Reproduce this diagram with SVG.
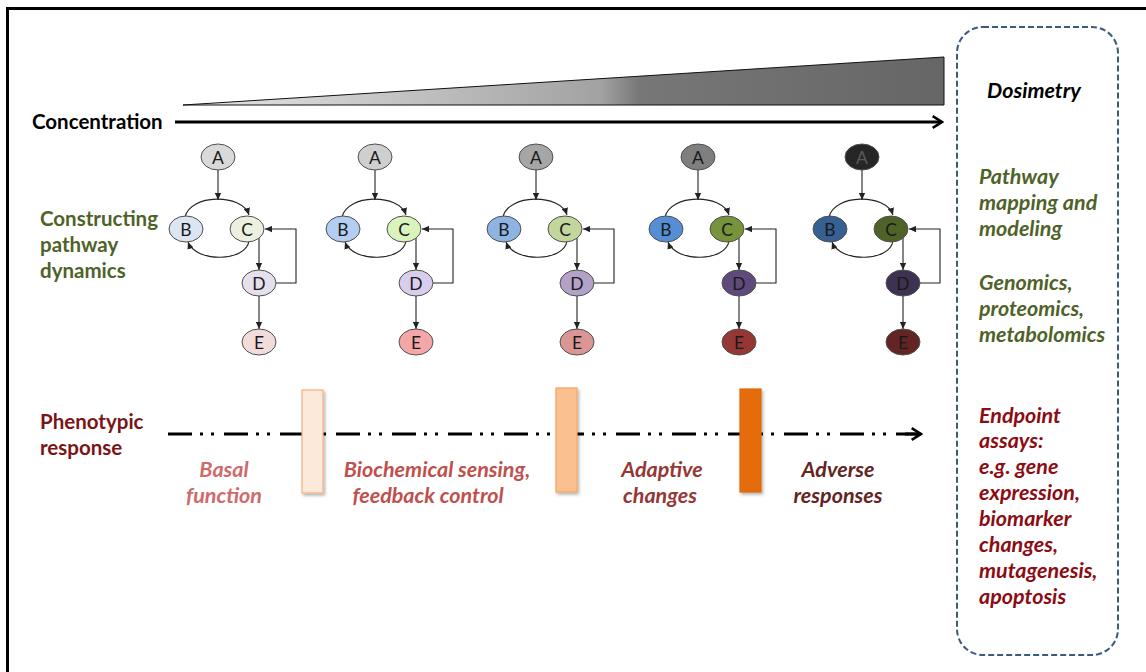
<svg xmlns="http://www.w3.org/2000/svg" width="1146" height="672" viewBox="0 0 1146 672">
<style>
.nd{stroke:#505050;stroke-width:1}
.nt{font-family:Lato,"Liberation Sans",sans-serif;font-size:17.5px;fill:#1a1a1a;text-anchor:middle;dominant-baseline:central}
.ed{fill:none;stroke:#222;stroke-width:1.1}
.lbl{font-family:Lato,"Open Sans","Liberation Sans",sans-serif;font-weight:bold;font-size:20.5px}
.bi{font-family:Lato,"Open Sans","Liberation Sans",sans-serif;font-weight:bold;font-style:italic;font-size:21.5px}
.mid{text-anchor:middle}
</style>
<defs>
<marker id="ah" viewBox="0 0 10 10" refX="10" refY="5" markerWidth="7" markerHeight="7" markerUnits="userSpaceOnUse" orient="auto"><path d="M0,0.5 L10,5 L0,9.5 z" fill="#222"/></marker>
<marker id="chev" viewBox="0 0 12 12" refX="10" refY="6" markerWidth="14" markerHeight="14" markerUnits="userSpaceOnUse" orient="auto"><path d="M2,1 L10,6 L2,11" fill="none" stroke="#000" stroke-width="2.2"/></marker>
<linearGradient id="tri" x1="0" y1="0" x2="1" y2="0">
<stop offset="0" stop-color="#e6e6e6"/>
<stop offset="0.55" stop-color="#a2a2a2"/>
<stop offset="0.6" stop-color="#777"/>
<stop offset="1" stop-color="#666"/>
</linearGradient>
<filter id="sh" x="-30%" y="-10%" width="160%" height="130%"><feDropShadow dx="1.5" dy="2" stdDeviation="1.5" flood-color="#000" flood-opacity="0.3"/></filter>
</defs>
<rect x="0" y="0" width="1146" height="672" fill="#fff"/>
<rect x="7.5" y="8.5" width="1200" height="700" fill="none" stroke="#000" stroke-width="3"/>

<g id="dosimetry-box">
<rect x="957" y="27" width="161" height="628" rx="26" fill="none" stroke="#3b5a80" stroke-width="2" stroke-dasharray="6 3"/>
<text class="bi" x="987" y="98" fill="#000">Dosimetry</text>
<text class="bi" fill="#4f6228"><tspan x="979" y="184">Pathway</tspan><tspan x="979" y="210">mapping and</tspan><tspan x="979" y="236">modeling</tspan><tspan x="979" y="290">Genomics,</tspan><tspan x="979" y="316">proteomics,</tspan><tspan x="979" y="342">metabolomics</tspan></text>
<text class="bi" fill="#8b0c12"><tspan x="979" y="423">Endpoint</tspan><tspan x="979" y="448">assays:</tspan><tspan x="979" y="474">e.g. gene</tspan><tspan x="979" y="500">expression,</tspan><tspan x="979" y="526">biomarker</tspan><tspan x="979" y="552">changes,</tspan><tspan x="979" y="578">mutagenesis,</tspan><tspan x="979" y="604">apoptosis</tspan></text>
</g>

<g id="concentration">
<polygon points="183,105 944,57 944,105" fill="url(#tri)" stroke="#111" stroke-width="1"/>
<text class="lbl" x="32" y="129" fill="#000" font-size="19.5">Concentration</text>
</g>

<g id="labels">
<text class="lbl" fill="#4f6228"><tspan x="40" y="226">Constructing</tspan><tspan x="40" y="252">pathway</tspan><tspan x="40" y="278">dynamics</tspan></text>
<text class="lbl" fill="#7a1416"><tspan x="40" y="429">Phenotypic</tspan><tspan x="40" y="455">response</tspan></text>
<text class="bi mid" fill="#cf6a6a"><tspan x="224" y="477">Basal</tspan><tspan x="224" y="503">function</tspan></text>
<text class="bi mid" fill="#c0504d"><tspan x="437" y="477">Biochemical sensing,</tspan><tspan x="428" y="503">feedback control</tspan></text>
<text class="bi mid" fill="#953735"><tspan x="662" y="477">Adaptive</tspan><tspan x="660" y="503">changes</tspan></text>
<text class="bi mid" fill="#632523"><tspan x="838" y="477">Adverse</tspan><tspan x="838" y="503">responses</tspan></text>
</g>

<g id="connectors">
<line x1="175" y1="122" x2="942" y2="122" stroke="#000" stroke-width="3" marker-end="url(#chev)"/>
<line x1="168" y1="434" x2="920" y2="434" stroke="#000" stroke-width="3" stroke-dasharray="24 8 3 8 3 10"/>
<line x1="905" y1="434" x2="921" y2="434" stroke="#000" stroke-width="3" marker-end="url(#chev)"/>
<g id="edges1" transform="translate(218,0)">
<line class="ed" x1="0" y1="170" x2="0" y2="200" marker-end="url(#ah)"/>
<path class="ed" d="M-33,217 C-28,194 24,193 31,215" marker-end="url(#ah)"/>
<path class="ed" d="M31,241 C28,262 -22,263 -30,242" marker-end="url(#ah)"/>
<line class="ed" x1="41" y1="238" x2="41" y2="270" marker-end="url(#ah)"/>
<polyline class="ed" points="58,283 78,283 78,229 47,229" marker-end="url(#ah)"/>
<line class="ed" x1="41" y1="296" x2="41" y2="329" marker-end="url(#ah)"/>
</g>
<g transform="translate(375,0)">
<line class="ed" x1="0" y1="170" x2="0" y2="200" marker-end="url(#ah)"/>
<path class="ed" d="M-33,217 C-28,194 24,193 31,215" marker-end="url(#ah)"/>
<path class="ed" d="M31,241 C28,262 -22,263 -30,242" marker-end="url(#ah)"/>
<line class="ed" x1="41" y1="238" x2="41" y2="270" marker-end="url(#ah)"/>
<polyline class="ed" points="58,283 78,283 78,229 47,229" marker-end="url(#ah)"/>
<line class="ed" x1="41" y1="296" x2="41" y2="329" marker-end="url(#ah)"/>
</g>
<g transform="translate(536,0)">
<line class="ed" x1="0" y1="170" x2="0" y2="200" marker-end="url(#ah)"/>
<path class="ed" d="M-33,217 C-28,194 24,193 31,215" marker-end="url(#ah)"/>
<path class="ed" d="M31,241 C28,262 -22,263 -30,242" marker-end="url(#ah)"/>
<line class="ed" x1="41" y1="238" x2="41" y2="270" marker-end="url(#ah)"/>
<polyline class="ed" points="58,283 78,283 78,229 47,229" marker-end="url(#ah)"/>
<line class="ed" x1="41" y1="296" x2="41" y2="329" marker-end="url(#ah)"/>
</g>
<g transform="translate(698,0)">
<line class="ed" x1="0" y1="170" x2="0" y2="200" marker-end="url(#ah)"/>
<path class="ed" d="M-33,217 C-28,194 24,193 31,215" marker-end="url(#ah)"/>
<path class="ed" d="M31,241 C28,262 -22,263 -30,242" marker-end="url(#ah)"/>
<line class="ed" x1="41" y1="238" x2="41" y2="270" marker-end="url(#ah)"/>
<polyline class="ed" points="58,283 78,283 78,229 47,229" marker-end="url(#ah)"/>
<line class="ed" x1="41" y1="296" x2="41" y2="329" marker-end="url(#ah)"/>
</g>
<g transform="translate(862,0)">
<line class="ed" x1="0" y1="170" x2="0" y2="200" marker-end="url(#ah)"/>
<path class="ed" d="M-33,217 C-28,194 24,193 31,215" marker-end="url(#ah)"/>
<path class="ed" d="M31,241 C28,262 -22,263 -30,242" marker-end="url(#ah)"/>
<line class="ed" x1="41" y1="238" x2="41" y2="270" marker-end="url(#ah)"/>
<polyline class="ed" points="58,283 78,283 78,229 47,229" marker-end="url(#ah)"/>
<line class="ed" x1="41" y1="296" x2="41" y2="329" marker-end="url(#ah)"/>
</g>
</g>

<g id="bars">
<rect id="bar1" x="302" y="390" width="21" height="103" fill="#fde9d9" stroke="#f4b183" stroke-width="1.2" filter="url(#sh)"/>
<rect id="bar2" x="556" y="388" width="21" height="104" fill="#fac090" stroke="#f5a462" stroke-width="1.2" filter="url(#sh)"/>
<rect id="bar3" x="740" y="389" width="21" height="103" fill="#e46c0a" stroke="#e0680a" stroke-width="1.2" filter="url(#sh)"/>
</g>

<g id="graph1" transform="translate(218,0)">
<g id="g1A"><ellipse class="nd" cx="0" cy="157" rx="17" ry="13" fill="#d9d9d9"/><text class="nt" x="0" y="157">A</text></g>
<g id="g1B"><ellipse class="nd" cx="-32" cy="229" rx="17" ry="13" fill="#dce6f2"/><text class="nt" x="-32" y="229">B</text></g>
<g id="g1C"><ellipse class="nd" cx="29" cy="229" rx="17" ry="13" fill="#ebf1de"/><text class="nt" x="29" y="229">C</text></g>
<g id="g1D"><ellipse class="nd" cx="41" cy="283" rx="17" ry="13" fill="#e5e0ec"/><text class="nt" x="41" y="283">D</text></g>
<g id="g1E"><ellipse class="nd" cx="41" cy="342" rx="17" ry="13" fill="#f2dcdb"/><text class="nt" x="41" y="342">E</text></g>
</g>
<g id="graph2" transform="translate(375,0)">
<g id="g2A"><ellipse class="nd" cx="0" cy="157" rx="17" ry="13" fill="#cfcfcf"/><text class="nt" x="0" y="157">A</text></g>
<g id="g2B"><ellipse class="nd" cx="-32" cy="229" rx="17" ry="13" fill="#b4cdf2"/><text class="nt" x="-32" y="229">B</text></g>
<g id="g2C"><ellipse class="nd" cx="29" cy="229" rx="17" ry="13" fill="#daf2bc"/><text class="nt" x="29" y="229">C</text></g>
<g id="g2D"><ellipse class="nd" cx="41" cy="283" rx="17" ry="13" fill="#d9cdee"/><text class="nt" x="41" y="283">D</text></g>
<g id="g2E"><ellipse class="nd" cx="41" cy="342" rx="17" ry="13" fill="#f5a7a7"/><text class="nt" x="41" y="342">E</text></g>
</g>
<g id="graph3" transform="translate(536,0)">
<g id="g3A"><ellipse class="nd" cx="0" cy="157" rx="17" ry="13" fill="#a6a6a6"/><text class="nt" x="0" y="157">A</text></g>
<g id="g3B"><ellipse class="nd" cx="-32" cy="229" rx="17" ry="13" fill="#8db4e2"/><text class="nt" x="-32" y="229">B</text></g>
<g id="g3C"><ellipse class="nd" cx="29" cy="229" rx="17" ry="13" fill="#c3d69b"/><text class="nt" x="29" y="229">C</text></g>
<g id="g3D"><ellipse class="nd" cx="41" cy="283" rx="17" ry="13" fill="#b3a2c7"/><text class="nt" x="41" y="283">D</text></g>
<g id="g3E"><ellipse class="nd" cx="41" cy="342" rx="17" ry="13" fill="#d99694"/><text class="nt" x="41" y="342">E</text></g>
</g>
<g id="graph4" transform="translate(698,0)">
<g id="g4A"><ellipse class="nd" cx="0" cy="157" rx="17" ry="13" fill="#7f7f7f"/><text class="nt" x="0" y="157">A</text></g>
<g id="g4B"><ellipse class="nd" cx="-32" cy="229" rx="17" ry="13" fill="#558ed5"/><text class="nt" x="-32" y="229">B</text></g>
<g id="g4C"><ellipse class="nd" cx="29" cy="229" rx="17" ry="13" fill="#77933c"/><text class="nt" x="29" y="229">C</text></g>
<g id="g4D"><ellipse class="nd" cx="41" cy="283" rx="17" ry="13" fill="#604a7b"/><text class="nt" x="41" y="283">D</text></g>
<g id="g4E"><ellipse class="nd" cx="41" cy="342" rx="17" ry="13" fill="#953735"/><text class="nt" x="41" y="342">E</text></g>
</g>
<g id="graph5" transform="translate(862,0)">
<g id="g5A"><ellipse class="nd" cx="0" cy="157" rx="17" ry="13" fill="#262626"/><text class="nt" x="0" y="157" style="fill:#5a5a5a">A</text></g>
<g id="g5B"><ellipse class="nd" cx="-32" cy="229" rx="17" ry="13" fill="#376092"/><text class="nt" x="-32" y="229">B</text></g>
<g id="g5C"><ellipse class="nd" cx="29" cy="229" rx="17" ry="13" fill="#4f6228"/><text class="nt" x="29" y="229">C</text></g>
<g id="g5D"><ellipse class="nd" cx="41" cy="283" rx="17" ry="13" fill="#3f3151"/><text class="nt" x="41" y="283">D</text></g>
<g id="g5E"><ellipse class="nd" cx="41" cy="342" rx="17" ry="13" fill="#632523"/><text class="nt" x="41" y="342">E</text></g>
</g>
</svg>
